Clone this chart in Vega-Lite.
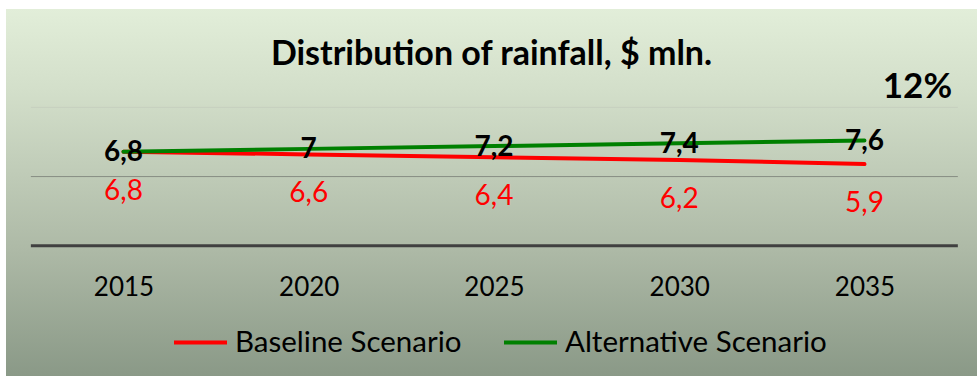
{
  "$schema": "https://vega.github.io/schema/vega-lite/v6.json",
  "width": 971,
  "height": 367,
  "autosize": {"type": "none"},
  "padding": {"left": 6, "top": 9, "right": 3, "bottom": 2},
  "background": "white",
  "config": {
    "font": "Lato",
    "locale": {"number": {"decimal": ",", "thousands": " ", "grouping": [3], "currency": ["", "$"]}},
    "view": {
      "stroke": null,
      "fill": {
        "gradient": "linear",
        "x1": 0, "y1": 0, "x2": 0, "y2": 1,
        "stops": [
          {"offset": 0, "color": "#e2eed9"},
          {"offset": 0.22, "color": "#d3dfca"},
          {"offset": 0.66, "color": "#adb9a6"},
          {"offset": 1, "color": "#8a9987"}
        ]
      }
    }
  },
  "title": {
    "text": "Distribution of rainfall, $ mln.",
    "font": "Lato",
    "fontSize": 34,
    "fontWeight": "bold",
    "color": "black",
    "anchor": "middle",
    "frame": "group",
    "baseline": "alphabetic",
    "offset": 0,
    "dy": 90
  },
  "datasets": {
    "series": [
      {"year": 2015, "scenario": "Baseline Scenario", "value": 6.8},
      {"year": 2020, "scenario": "Baseline Scenario", "value": 6.6},
      {"year": 2025, "scenario": "Baseline Scenario", "value": 6.4},
      {"year": 2030, "scenario": "Baseline Scenario", "value": 6.2},
      {"year": 2035, "scenario": "Baseline Scenario", "value": 5.9},
      {"year": 2015, "scenario": "Alternative Scenario", "value": 6.8},
      {"year": 2020, "scenario": "Alternative Scenario", "value": 7.0},
      {"year": 2025, "scenario": "Alternative Scenario", "value": 7.2},
      {"year": 2030, "scenario": "Alternative Scenario", "value": 7.4},
      {"year": 2035, "scenario": "Alternative Scenario", "value": 7.6}
    ],
    "grid": [{"level": 5}, {"level": 10}],
    "growth": [{"label": "12%"}]
  },
  "layer": [
    {
      "data": {"name": "grid"},
      "mark": {"type": "rule", "strokeWidth": 1},
      "encoding": {
        "y": {"field": "level", "type": "quantitative", "scale": {"domain": [-9.4, 17.1], "nice": false, "zero": false}, "axis": null},
        "x": {"datum": 2012.5, "type": "quantitative"},
        "x2": {"datum": 2037.52},
        "color": {"condition": {"test": "datum.level == 10", "value": "#c6cfbf"}, "value": "#878d83"}
      }
    },
    {
      "data": {"name": "grid"},
      "transform": [{"filter": "datum.level == 5"}],
      "mark": {"type": "rule", "strokeWidth": 3, "color": "#404040"},
      "encoding": {
        "y": {"datum": 0, "type": "quantitative"},
        "x": {"datum": 2012.5, "type": "quantitative"},
        "x2": {"datum": 2037.52}
      }
    },
    {
      "data": {"name": "series"},
      "mark": {"type": "line", "strokeWidth": 4, "strokeCap": "round"},
      "encoding": {
        "x": {
          "field": "year",
          "type": "quantitative",
          "scale": {"domain": [2011.829, 2038.037], "nice": false, "zero": false},
          "axis": {
            "orient": "bottom",
            "values": [2015, 2020, 2025, 2030, 2035],
            "format": "d",
            "offset": -130.2,
            "domain": false,
            "ticks": false,
            "grid": false,
            "title": null,
            "labelFont": "Lato",
            "labelFontSize": 26,
            "labelColor": "black",
            "labelBaseline": "middle",
            "labelPadding": 42
          }
        },
        "y": {"field": "value", "type": "quantitative"},
        "color": {
          "field": "scenario",
          "type": "nominal",
          "scale": {"domain": ["Baseline Scenario", "Alternative Scenario"], "range": ["#ff0000", "#008000"]},
          "legend": {
            "orient": "none",
            "legendX": 166,
            "legendY": 305,
            "direction": "horizontal",
            "title": null,
            "symbolType": "stroke",
            "symbolStrokeWidth": 4,
            "symbolSize": 2809,
            "labelFont": "Lato",
            "labelFontSize": 29.5,
            "labelColor": "black",
            "labelOffset": 6,
            "columnPadding": 34,
            "labelLimit": 400
          }
        }
      }
    },
    {
      "data": {"name": "series"},
      "transform": [{"filter": "datum.scenario == 'Alternative Scenario'"}],
      "mark": {"type": "text", "font": "Lato", "fontSize": 28, "fontWeight": "bold", "color": "black", "baseline": "middle", "align": "center", "dy": 1.5},
      "encoding": {
        "x": {"field": "year", "type": "quantitative"},
        "y": {"field": "value", "type": "quantitative"},
        "text": {"field": "value", "type": "quantitative", "format": ".1~f"}
      }
    },
    {
      "data": {"name": "series"},
      "transform": [{"filter": "datum.scenario == 'Baseline Scenario'"}],
      "mark": {"type": "text", "font": "Lato", "fontSize": 28, "color": "#ff0000", "baseline": "middle", "align": "center", "dy": 40},
      "encoding": {
        "x": {"field": "year", "type": "quantitative"},
        "y": {"field": "value", "type": "quantitative"},
        "text": {"field": "value", "type": "quantitative", "format": ".1~f"}
      }
    },
    {
      "data": {"name": "growth"},
      "mark": {"type": "text", "font": "Lato", "fontSize": 35, "fontWeight": "bold", "color": "black", "baseline": "alphabetic", "align": "center"},
      "encoding": {
        "x": {"datum": 2036.43, "type": "quantitative"},
        "y": {"datum": 10.69, "type": "quantitative"},
        "text": {"field": "label"}
      }
    }
  ]
}
